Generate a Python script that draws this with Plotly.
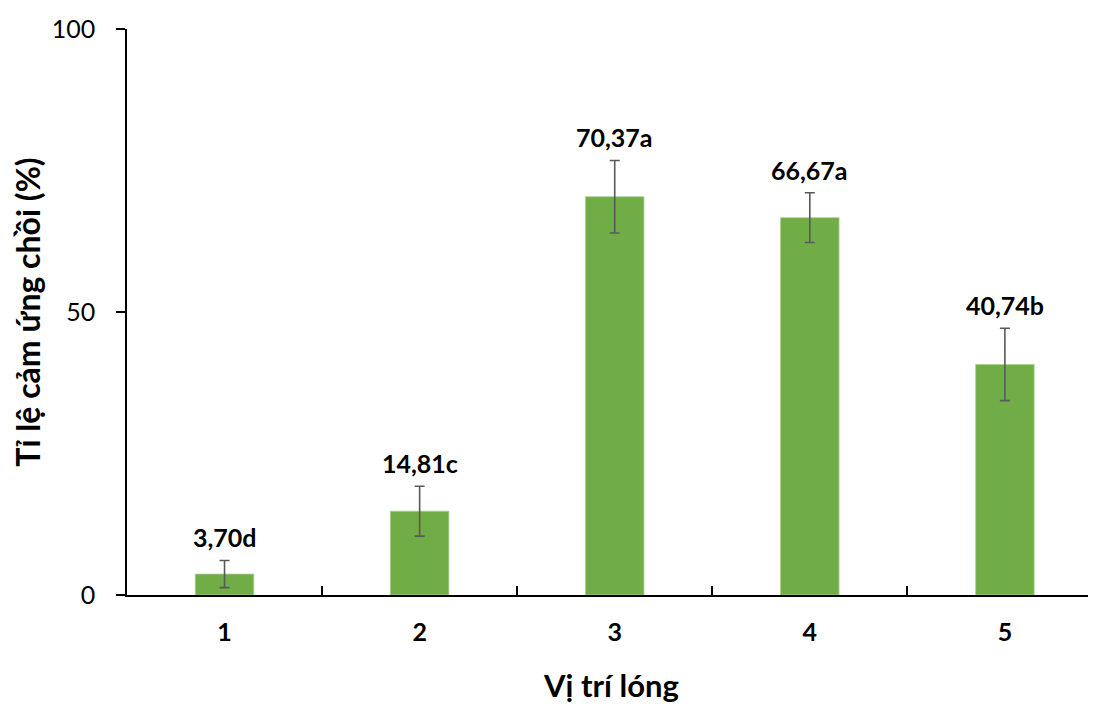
import plotly.graph_objects as go

categories = ["1", "2", "3", "4", "5"]
values = [3.70, 14.81, 70.37, 66.67, 40.74]
errors = [2.4, 4.4, 6.4, 4.4, 6.4]
letters = ["d", "c", "a", "a", "b"]
y_ticks = [0, 50, 100]

labels = [f"{v:.2f}".replace(".", ",") + l for v, l in zip(values, letters)]

fig = go.Figure()
fig.add_trace(go.Bar(
    x=categories, y=values, width=0.3,
    marker=dict(color="#70AD47", line=dict(color="#A9D18E", width=0.8)),
    error_y=dict(type="data", array=errors, visible=True,
                 color="#595959", thickness=1.6, width=5),
))

for i, (v, e, t) in enumerate(zip(values, errors, labels)):
    fig.add_annotation(x=i, y=v + e, xref="x", yref="y", text=f"<b>{t}</b>",
                       showarrow=False, yanchor="bottom", yshift=6,
                       font=dict(family="Lato", size=25, color="#000000"))

fig.update_layout(
    width=1088, height=696,
    margin=dict(l=119, r=0, t=21, b=109),
    plot_bgcolor="white", paper_bgcolor="white",
    showlegend=False, bargap=0.7,
    font=dict(family="Lato", color="#000000"),
)
fig.update_xaxes(
    type="category", range=[-0.5, 4.467],
    showline=True, linecolor="#000000", linewidth=1.5,
    ticks="inside", tickson="boundaries", ticklen=9, tickcolor="#000000", tickwidth=1.5,
    tickfont=dict(family="Lato", size=25, color="#000000", weight="bold"),
    ticklabelstandoff=14,
    title=dict(text="<b>Vị trí lóng</b>", font=dict(family="Lato", size=31, color="#000000"), standoff=32),
)
fig.update_yaxes(
    range=[0, 100], tickvals=y_ticks,
    showline=True, linecolor="#000000", linewidth=1.5, showgrid=False, zeroline=False,
    ticks="outside", ticklen=9, tickcolor="#000000", tickwidth=1.5,
    tickfont=dict(family="Lato", size=25, color="#000000"),
    ticklabelstandoff=16,
    title=dict(text="<b>Tỉ lệ cảm ứng chồi (%)</b>", font=dict(family="Lato", size=32, color="#000000"), standoff=12),
)

fig.write_html("out.html")
